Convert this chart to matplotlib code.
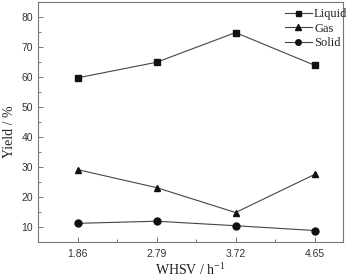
import matplotlib
matplotlib.use("Agg")
import matplotlib.pyplot as plt
from matplotlib.ticker import MultipleLocator

whsv = [1.86, 2.79, 3.72, 4.65]
whsv_labels = ["1.86", "2.79", "3.72", "4.65"]
liquid = [59.7, 64.9, 74.8, 63.9]
gas = [29.1, 23.1, 14.8, 27.5]
solid = [11.2, 11.9, 10.4, 8.8]

fig = plt.figure(figsize=(3.5, 2.8), dpi=100)
ax = fig.add_axes([0.109, 0.136, 0.871, 0.857])

lc = "#444444"
ax.plot(whsv, liquid, color=lc, lw=0.8, marker="s", ms=4.5, mfc="#111111", mec="#111111", label="Liquid")
ax.plot(whsv, gas, color=lc, lw=0.8, marker="^", ms=5, mfc="#111111", mec="#111111", label="Gas")
ax.plot(whsv, solid, color=lc, lw=0.8, marker="o", ms=5, mfc="#111111", mec="#111111", label="Solid")

ax.set_xlim(1.395, 4.985)
ax.set_ylim(5, 85)
ax.set_xticks(whsv)
ax.set_xticklabels(whsv_labels)
ax.xaxis.set_minor_locator(MultipleLocator(0.465))
ax.set_yticks(range(10, 81, 10))
ax.yaxis.set_minor_locator(MultipleLocator(5))

for s in ax.spines.values():
    s.set_color("#777777")
    s.set_linewidth(0.8)
ax.tick_params(which="both", direction="in", color="#777777", width=0.7,
               labelsize=7.5, labelcolor="#333333")
ax.tick_params(which="major", length=3.5)
ax.tick_params(which="minor", length=2)
ax.tick_params(axis="x", pad=5)
for lab in ax.get_xticklabels() + ax.get_yticklabels():
    lab.set_family("Liberation Sans")

ax.set_xlabel("WHSV / h$^{\\mathregular{-1}}$", family="Liberation Serif", fontsize=10, color="#222222", labelpad=2)
ax.set_ylabel("Yield / %", family="Liberation Serif", fontsize=10, color="#222222")
ax.yaxis.set_label_coords(-0.072, 0.46)

leg = ax.legend(loc="upper right", bbox_to_anchor=(1.035, 1.0), frameon=False,
                prop={"family": "Liberation Serif", "size": 9}, handlelength=2.2,
                handletextpad=0.15, labelspacing=0.2, borderaxespad=0.1, markerscale=0.8)
for t in leg.get_texts():
    t.set_color("#222222")

fig.savefig("out.png", dpi=100)
